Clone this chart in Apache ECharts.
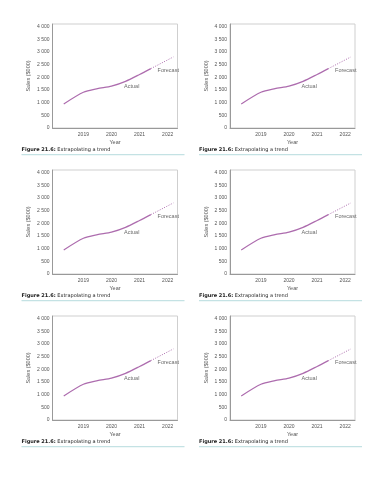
<!DOCTYPE html>
<html>
<head>
<meta charset="utf-8">
<script src="https://cdn.jsdelivr.net/npm/echarts@6/dist/echarts.min.js"></script>
<style>
html,body{margin:0;padding:0;background:#fff;}
#c{width:386px;height:500px;}
</style>
</head>
<body>
<div id="c"></div>
<script>
// ---- data ----
const actualYears = [2018.3, 2019, 2019.5, 2020, 2020.5, 2021, 2021.4];
const actualSales = [950, 1410, 1550, 1650, 1840, 2110, 2340];
const forecastYears = [2021.4, 2022.2];
const forecastSales = [2340, 2800];
const xTickValues = [2019, 2020, 2021, 2022];
const xTickLabels = ['2019', '2020', '2021', '2022'];
const yTickLabels = ['0', '500', '1 000', '1 500', '2 000', '2 500', '3 000', '3 500', '4 000'];
const annotationText = ['Actual', 'Forecast'];
const annotationYears = [2020.72, 2022.02];
const annotationSales = [1640, 2275];
const yAxisTitle = 'Sales ($000)';
const xAxisTitle = 'Year';
const captionBold = 'Figure 21.6:';
const captionText = ' Extrapolating a trend';
const panelCount = 6;

// ---- layout ----
const colX = [52.5, 230];
const rowY = [24, 170, 316];
const gw = 125, gh = 104;
const lineColor = '#ad6cae';

const grids = [], xAxes = [], yAxes = [], series = [], graphics = [];
for (let i = 0; i < panelCount; i++) {
  const c = i % 2, r = Math.floor(i / 2);
  const left = colX[c], top = rowY[r];
  grids.push({left: left, top: top, width: gw, height: gh, show: true,
    borderColor: '#cfcfcf', borderWidth: 1, backgroundColor: 'transparent'});
  xAxes.push({
    type: 'value', gridIndex: i, min: 2017.9, max: 2022.35,
    name: xAxisTitle, nameLocation: 'middle', nameGap: 11,
    nameTextStyle: {fontFamily: 'Liberation Sans', fontSize: 5.5, color: '#555'},
    axisLine: {show: true, onZero: false, lineStyle: {color: '#999', width: 1}},
    axisTick: {show: false},
    splitLine: {show: false},
    axisLabel: {customValues: xTickValues, margin: 4,
      formatter: v => xTickLabels[xTickValues.indexOf(v)],
      fontFamily: 'Liberation Sans', fontSize: 5, color: '#555'}
  });
  yAxes.push({
    type: 'value', gridIndex: i, min: 0, max: 4100, interval: 500,
    name: yAxisTitle, nameLocation: 'middle', nameGap: 21, nameRotate: 90,
    nameTextStyle: {fontFamily: 'Liberation Sans', fontSize: 5.5, color: '#555'},
    axisLine: {show: true, lineStyle: {color: '#999', width: 1}},
    axisTick: {show: false},
    splitLine: {show: false},
    axisLabel: {margin: 3, formatter: v => (v % 500 === 0 && v / 500 < yTickLabels.length) ? yTickLabels[v / 500] : '',
      fontFamily: 'Liberation Sans', fontSize: 5, color: '#555'}
  });
  series.push({
    type: 'line', xAxisIndex: i, yAxisIndex: i, smooth: 0.25, symbol: 'none',
    lineStyle: {color: lineColor, width: 1.2},
    data: actualYears.map((y, k) => [y, actualSales[k]]), silent: true
  });
  series.push({
    type: 'line', xAxisIndex: i, yAxisIndex: i, symbol: 'none',
    lineStyle: {color: lineColor, width: 1, type: [1, 1.5]},
    data: forecastYears.map((y, k) => [y, forecastSales[k]]), silent: true
  });
  series.push({
    type: 'scatter', xAxisIndex: i, yAxisIndex: i, symbolSize: 0, silent: true,
    label: {show: true, position: 'inside', formatter: p => annotationText[p.dataIndex],
      fontFamily: 'Liberation Sans', fontSize: 5.5, color: '#444'},
    data: annotationYears.map((y, k) => [y, annotationSales[k]])
  });
  const capX = left - 31, capY = top + 126;
  graphics.push({
    type: 'text', left: capX, top: capY - 3,
    style: {
      text: '{b|' + captionBold + '}{n|' + captionText + '}',
      rich: {
        b: {fontFamily: 'DejaVu Sans', fontWeight: 'bold', fontSize: 5, fill: '#222'},
        n: {fontFamily: 'DejaVu Sans', fontSize: 5, fill: '#222'}
      }
    }
  });
  graphics.push({
    type: 'rect', shape: {x: capX, y: capY + 4, width: 163, height: 1.2},
    style: {fill: '#c4e2e4'}
  });
}

const chart = echarts.init(document.getElementById('c'), null, {renderer: 'canvas'});
chart.setOption({
  animation: false,
  backgroundColor: '#fff',
  grid: grids, xAxis: xAxes, yAxis: yAxes, series: series,
  graphic: graphics
});
</script>
</body>
</html>
